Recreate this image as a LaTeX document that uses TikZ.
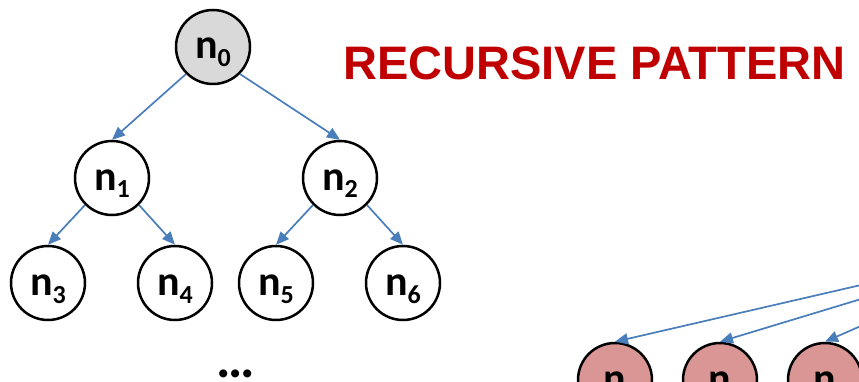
\documentclass[tikz,border=0pt]{standalone}
\usepackage{fontspec}
\setmainfont{Carlito}
\newfontfamily\titlefont{Liberation Sans}
\usetikzlibrary{arrows.meta}

\definecolor{edgeblue}{HTML}{4A7EBB}
\definecolor{titlered}{HTML}{C00000}
\definecolor{rootgray}{HTML}{D9D9D9}
\definecolor{leafpink}{HTML}{D99694}

% node label: bold n with a lowered index
\newcommand{\nlabel}[1]{n\raisebox{-8pt}{\fontsize{26}{26}\selectfont #1}}

\begin{document}
\begin{tikzpicture}[x=1pt,y=-1pt,
  treenode/.style={circle, draw=black, line width=2.5pt, minimum size=74pt,
    inner sep=0pt, fill=white,
    font=\fontsize{42}{42}\selectfont\bfseries, text height=24pt, text depth=0pt},
  rootnode/.style={treenode, fill=rootgray},
  pinknode/.style={treenode, fill=leafpink},
  link/.style={draw=edgeblue, line width=1.7pt,
    -{Triangle[length=13pt,width=11pt]}}]

  \useasboundingbox (0,0) rectangle (859,382);
  \clip (0,0) rectangle (859,382);

  % binary tree
  \node[rootnode] (n0) at (213,47) {\nlabel{0}};
  \node[treenode] (n1) at (112,178) {\nlabel{1}};
  \node[treenode] (n2) at (340,178) {\nlabel{2}};
  \node[treenode] (n3) at (48,283) {\nlabel{3}};
  \node[treenode] (n4) at (175,283) {\nlabel{4}};
  \node[treenode] (n5) at (276,283) {\nlabel{5}};
  \node[treenode] (n6) at (403,283) {\nlabel{6}};

  \draw[link] (n0.225) -- (n1.90);
  \draw[link] (n0.-45) -- (n2.90);
  \draw[link] (n1.225) -- (n3.90);
  \draw[link] (n1.-45) -- (n4.90);
  \draw[link] (n2.225) -- (n5.90);
  \draw[link] (n2.-45) -- (n6.90);

  \node[anchor=base, inner sep=0pt, font=\fontsize{54}{54}\selectfont\bfseries] (dots) at (236,377) {…};

  % title
  \node[anchor=base west, inner sep=0pt, text=titlered,
        font=\titlefont\bfseries\fontsize{47}{47}\selectfont] (title) at (343,80) {RECURSIVE PATTERN};

  % children of a node further to the right
  \coordinate (src) at (1056,240);
  \node[pinknode] (m1) at (615,380) {n};
  \node[pinknode] (m2) at (720,380) {n};
  \node[pinknode] (m3) at (825,380) {n};

  \draw[link] (src) -- (m1.90);
  \draw[link] (src) -- (m2.90);
  \draw[link] (src) -- (m3.90);
\end{tikzpicture}
\end{document}
